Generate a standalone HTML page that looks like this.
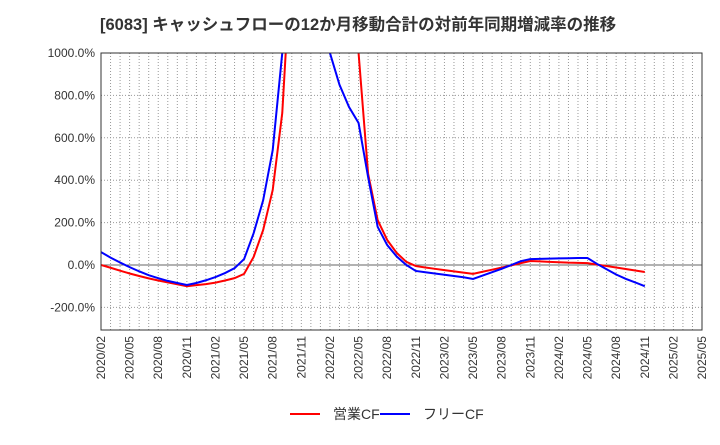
<!DOCTYPE html>
<html><head><meta charset="utf-8"><style>
body{margin:0;background:#fff;font-family:"Liberation Sans","Noto Sans CJK JP",sans-serif}
</style></head><body>
<svg id="c" width="720" height="440" xmlns="http://www.w3.org/2000/svg" font-family="Liberation Sans, Noto Sans CJK JP, sans-serif">
<text x="100" y="30" font-size="16.5" font-weight="bold" fill="#333">[6083]  キャッシュフローの12か月移動合計の対前年同期増減率の推移</text>
<defs><clipPath id="pc"><rect x="101" y="53" width="601" height="277"/></clipPath></defs>
<g id="grid"></g><g id="series" clip-path="url(#pc)"></g><g id="axes"></g>
<g>
<line x1="290" y1="414" x2="320" y2="414" stroke="#f00" stroke-width="2"/>
<text x="333" y="419" font-size="14" fill="#333">営業CF</text>
<line x1="380" y1="414" x2="410" y2="414" stroke="#00f" stroke-width="2"/>
<text x="423" y="419" font-size="14" fill="#333">フリーCF</text>
</g>
</svg>
<script>
const yTicks=[1000,800,600,400,200,0,-200];
const xTickLabels=["2020/02","2020/05","2020/08","2020/11","2021/02","2021/05","2021/08","2021/11","2022/02","2022/05","2022/08","2022/11","2023/02","2023/05","2023/08","2023/11","2024/02","2024/05","2024/08","2024/11","2025/02","2025/05"];
const operatingCF=[0,-13,-27,-40,-52,-63,-73,-82,-91,-100,-95,-90,-83,-73,-62,-42,38,165,354,717,1500,2000,2500,2500,2500,2000,1500,1000,430,212,118,57,15,-5,-12,-18,-24,-30,-36,-42,-32,-22,-12,-2,9,19,17,15,13,11,10,9,2,-5,-12,-19,-26,-33];
const freeCF=[61,35,12,-10,-30,-48,-62,-75,-85,-94,-85,-72,-57,-38,-15,28,150,306,542,1000,1500,2000,2000,1500,1000,850,745,670,415,180,94,40,0,-28,-34,-40,-46,-52,-58,-66,-50,-34,-18,0,18,28,29,30,31,32,33,33,5,-20,-45,-65,-82,-100];
const NS="http://www.w3.org/2000/svg";
const X0=101,X1=702,Y0=53,Y1=330,MONTHS=63;
const xs=m=>X0+(X1-X0)*m/MONTHS;
const ys=v=>265-v*0.212;
function mk(t,a,p){const e=document.createElementNS(NS,t);for(const k in a)e.setAttribute(k,a[k]);p.appendChild(e);return e;}
const g=document.getElementById('grid'),ax=document.getElementById('axes'),s=document.getElementById('series');
for(let m=1;m<MONTHS;m++){const l=mk('line',{x1:xs(m),x2:xs(m),y1:Y0,y2:Y1,stroke:'#999','stroke-dasharray':'1,2'},g);

}
yTicks.forEach(v=>{const y=ys(v);const l=mk('line',{x1:X0,x2:X1,y1:y,y2:y,stroke:v===0?'#666':'#999','stroke-dasharray':v===0?'':'1,2'},g);


const t=mk('text',{x:X0-6,y:y+4,'text-anchor':'end','font-size':12,fill:'#333'},ax);t.textContent=v.toFixed(1)+'%';

});
xTickLabels.forEach((lb,i)=>{const x=xs(i*3);const t=mk('text',{x:x+4,y:Y1+6,'text-anchor':'end','font-size':12,fill:'#333',transform:`rotate(-90 ${x+4} ${Y1+6})`},ax);t.textContent=lb;

});
const fr=mk('rect',{x:X0,y:Y0,width:X1-X0,height:Y1-Y0,fill:'none',stroke:'#333'},ax);


function line(d,c,n){const p=mk('polyline',{points:d.map((v,i)=>xs(i)+','+ys(v)).join(' '),fill:'none',stroke:c,'stroke-width':2},s);

}
line(operatingCF,'#f00','operating-cf-line');
line(freeCF,'#00f','free-cf-line');
</script>
</body></html>
